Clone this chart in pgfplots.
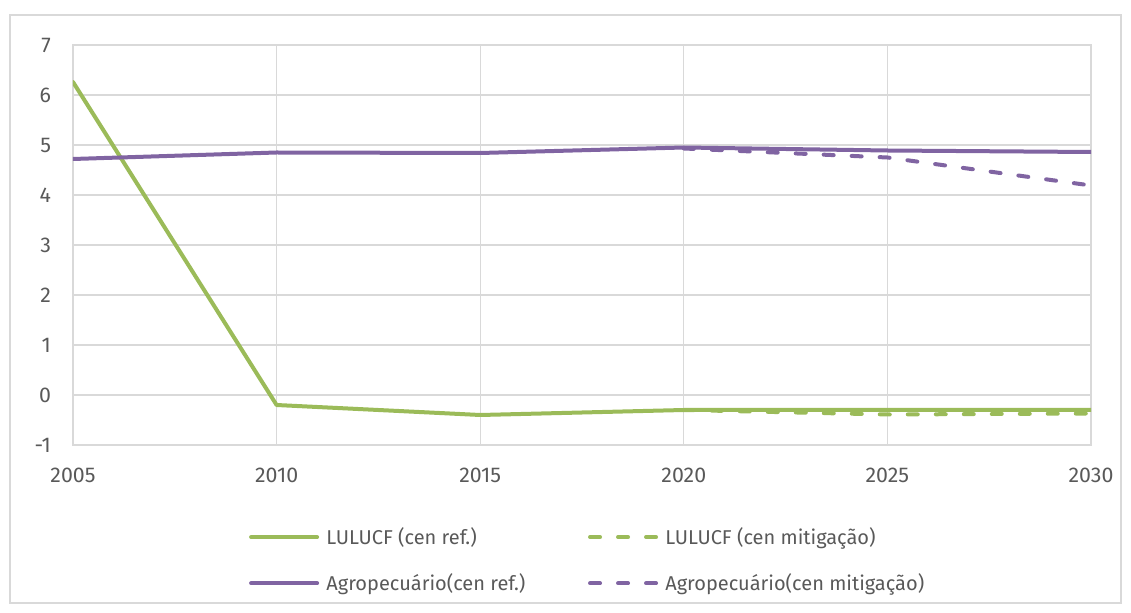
\documentclass[border=0pt]{standalone}
\usepackage{fontspec}
\setmainfont{Fira Sans}
\usepackage{pgfplots}
\pgfplotsset{compat=1.18}
\definecolor{lulucf}{HTML}{9BBB59}
\definecolor{agro}{HTML}{8064A2}
\definecolor{gridgray}{HTML}{D9D9D9}
\definecolor{txtgray}{HTML}{595959}

\begin{document}
\begin{tikzpicture}
\useasboundingbox (-54.75pt,-126pt) rectangle (793.5pt,333.75pt);
\draw[gridgray, line width=0.9pt] (-47.25pt,-118.5pt) rectangle (786pt,322.5pt);
\begin{axis}[
    scale only axis,
    width=763.5pt, height=300pt,
    xmin=2005, xmax=2030, ymin=-1, ymax=7,
    xtick={2005,2010,...,2030},
    ytick={-1,0,...,7},
    grid=major,
    grid style={gridgray, line width=0.9pt},
    axis line style={gridgray, line width=0.9pt},
    tick style={draw=none},
    /pgf/number format/assume math mode=true,
    /pgf/number format/1000 sep={},
    ticklabel style={font=\fontsize{16pt}{19pt}\selectfont, text=txtgray},
    yticklabel style={xshift=-13pt},
    xticklabel style={yshift=-14pt},
    legend columns=2,
    legend cell align=left,
    legend style={
        draw=none, fill=none,
        at={(0.173,-0.200)}, anchor=north west,
        inner sep=0pt, outer sep=0pt,
        font=\fontsize{15pt}{18pt}\selectfont, text=txtgray,
        row sep=16.5pt,
        /tikz/every even column/.append style={column sep=45pt},
    },
    legend image code/.code={\draw[#1] (1.5pt,0pt) -- (51pt,0pt); \path (54.5pt,0pt);},
    every axis plot/.append style={line width=3pt, line join=round, line cap=round},
    mit/.style={dash pattern=on 7.5pt off 13.5pt},
]

% LULUCF, reference scenario
\addplot[lulucf] coordinates {
    (2005,6.26) (2010,-0.20) (2015,-0.40) (2020,-0.30) (2025,-0.30) (2030,-0.30)
};
\addlegendentry{LULUCF (cen ref.)}

% LULUCF, mitigation scenario
\addplot[lulucf, mit] coordinates {
    (2020,-0.30) (2025,-0.39) (2030,-0.37)
};
\addlegendentry{LULUCF (cen mitigação)}

% Agropecuario, reference scenario
\addplot[agro] coordinates {
    (2005,4.72) (2010,4.85) (2015,4.84) (2020,4.95) (2025,4.89) (2030,4.86)
};
\addlegendentry{Agropecuário(cen ref.)}

% Agropecuario, mitigation scenario
\addplot[agro, mit] coordinates {
    (2020,4.93) (2025,4.75) (2030,4.19)
};
\addlegendentry{Agropecuário(cen mitigação)}

\end{axis}
\end{tikzpicture}
\end{document}
